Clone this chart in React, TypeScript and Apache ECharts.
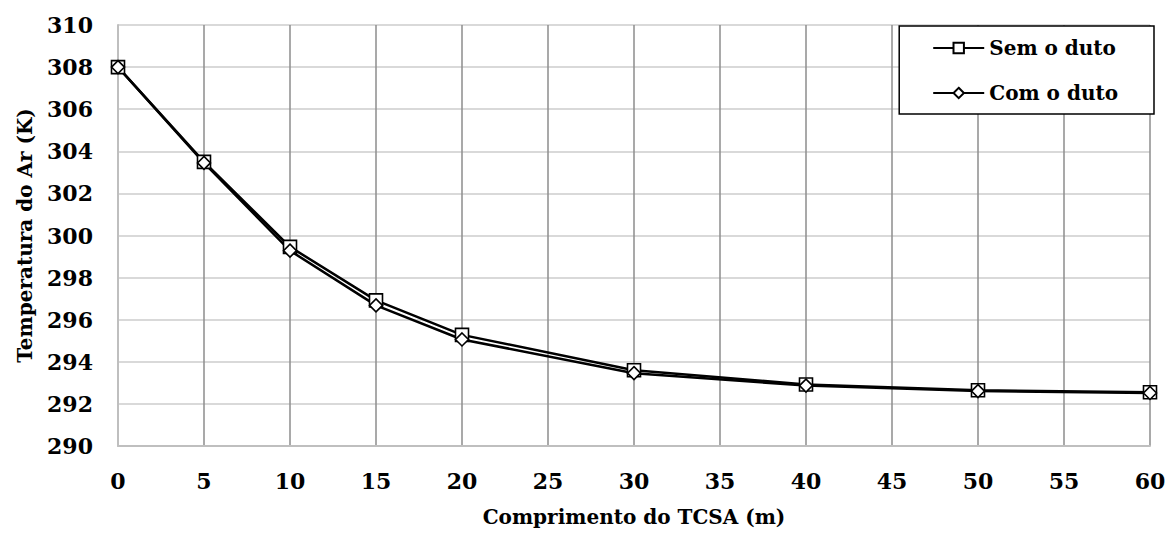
import React, { useEffect, useRef } from "react";
import * as echarts from "echarts";

// Air temperature along the earth-air heat exchanger (TCSA), with and without the duct
const lengths = [0, 5, 10, 15, 20, 30, 40, 50, 60];
const semDuto = [308.0, 303.5, 299.46, 296.92, 295.28, 293.6, 292.92, 292.65, 292.55];
const comDuto = [308.0, 303.45, 299.28, 296.68, 295.06, 293.46, 292.87, 292.61, 292.52];
const seriesNames = ["Sem o duto", "Com o duto"];
const xTitle = "Comprimento do TCSA (m)";
const yTitle = "Temperatura do Ar (K)";

const FONT = "'DejaVu Serif', 'Liberation Serif', serif";

export default function App() {
  const ref = useRef<HTMLDivElement>(null);

  useEffect(() => {
    document.body.style.margin = "0";
    if (!ref.current) return;
    const chart = echarts.init(ref.current, null, { renderer: "svg" });

    const toPairs = (ys: number[]) => lengths.map((x, i) => [x, ys[i]]);

    const lineSeries = (name: string, symbol: string, ys: number[]) => ({
      name,
      type: "line",
      data: toPairs(ys),
      symbol,
      symbolSize: 13,
      showAllSymbol: true,
      lineStyle: { color: "#000", width: 2.5 },
      itemStyle: { color: "#fff", borderColor: "#000", borderWidth: 1.6 },
      emphasis: { disabled: true },
    });

    chart.setOption({
      animation: false,
      backgroundColor: "#fff",
      grid: { left: 118, right: 19, top: 25, bottom: 91, containLabel: false },
      legend: {
        orient: "vertical",
        right: 15,
        top: 26,
        width: 260,
        padding: [11, 36, 10, 33],
        itemGap: 23,
        itemWidth: 51,
        itemHeight: 13,
        backgroundColor: "#fff",
        borderColor: "#000",
        borderWidth: 1.5,
        borderRadius: 0,
        data: seriesNames,
        textStyle: {
          fontFamily: FONT,
          fontWeight: "bold",
          fontSize: 20,
          lineHeight: 22,
          color: "#000",
        },
      },
      xAxis: {
        type: "value",
        min: 0,
        max: 60,
        interval: 5,
        name: xTitle,
        nameLocation: "middle",
        nameGap: 61,
        nameTextStyle: { fontFamily: FONT, fontWeight: "bold", fontSize: 20, color: "#000" },
        axisLine: { show: true, lineStyle: { color: "#bfbfbf", width: 2 } },
        axisTick: { show: false },
        axisLabel: { fontFamily: FONT, fontWeight: "bold", fontSize: 22, color: "#000", margin: 24 },
        splitLine: { show: true, showMinLine: false, lineStyle: { color: "#8c8c8c", width: 1.5 } },
      },
      yAxis: {
        type: "value",
        min: 290,
        max: 310,
        interval: 2,
        name: yTitle,
        nameLocation: "middle",
        nameGap: 83,
        nameTextStyle: { fontFamily: FONT, fontWeight: "bold", fontSize: 20, color: "#000" },
        axisLine: { show: true, lineStyle: { color: "#bfbfbf", width: 2 } },
        axisTick: { show: false },
        axisLabel: { fontFamily: FONT, fontWeight: "bold", fontSize: 22, color: "#000", margin: 25 },
        splitLine: { show: true, showMinLine: false, lineStyle: { color: "#d9d9d9", width: 2 } },
      },
      series: [
        lineSeries(seriesNames[0], "rect", semDuto),
        lineSeries(seriesNames[1], "diamond", comDuto),
      ],
    });

    return () => chart.dispose();
  }, []);

  return <div ref={ref} style={{ width: 1169, height: 537 }} />;
}
